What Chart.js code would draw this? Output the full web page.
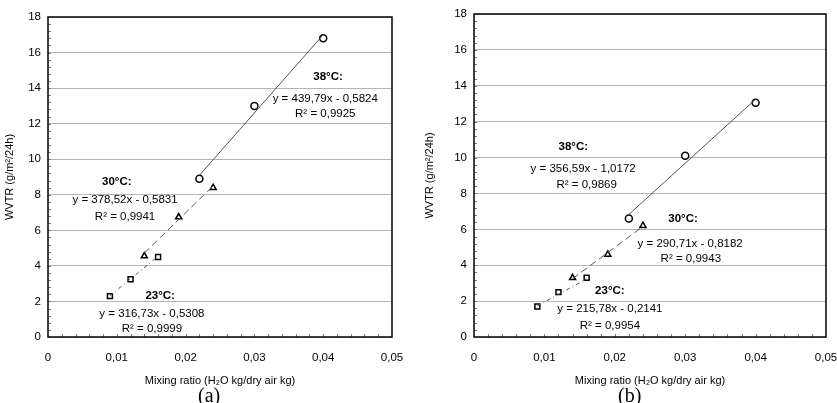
<!DOCTYPE html>
<html>
<head>
<meta charset="utf-8">
<script src="https://cdn.jsdelivr.net/npm/chart.js@4.4.1/dist/chart.umd.min.js"></script>
<style>
  body { margin: 0; background: #fff; overflow: hidden; }
  #wrap { position: relative; width: 837px; height: 403px; overflow: hidden; }
  canvas { position: absolute; top: 0; }
  .cap { position: absolute; top: 384px; font: 20px "Liberation Serif", "DejaVu Serif", serif; color: #000; line-height: 22px; }
</style>
</head>
<body>
<div id="wrap">
  <canvas id="chartA" width="420" height="403" style="left:0"></canvas>
  <canvas id="chartB" width="427" height="403" style="left:420px"></canvas>
  <div class="cap" style="left:198px">(a)</div>
  <div class="cap" style="left:618px">(b)</div>
</div>
<script>
// mixing ratio of the measurements (same for both panels)
const x38 = [0.022, 0.030, 0.040];
const x30 = [0.014, 0.019, 0.024];
const x23 = [0.009, 0.012, 0.016];

// WVTR values, panel (a)
const yA38 = [8.9, 13.0, 16.8];
const yA30 = [4.55, 6.75, 8.4];
const yA23 = [2.3, 3.25, 4.5];
// WVTR values, panel (b)
const yB38 = [6.6, 10.1, 13.05];
const yB30 = [3.3, 4.6, 6.2];
const yB23 = [1.7, 2.5, 3.3];

// trend line end points (x, y) as seen on the picture
const trendA38 = [[0.022, 9.09], [0.040, 17.0]];
const trendA30 = [[0.014, 4.72], [0.024, 8.50]];
const trendA23 = [[0.009, 2.32], [0.016, 4.54]];
const trendB38 = [[0.022, 6.83], [0.040, 13.25]];
const trendB30 = [[0.014, 3.25], [0.024, 6.16]];
const trendB23 = [[0.009, 1.73], [0.016, 3.24]];

// equation labels [text, x, y, bold]
const labelsA = [
  ['38°C:', 0.0407, 14.62, true],
  ['y = 439,79x - 0,5824', 0.0403, 13.39, false],
  ['R² = 0,9925', 0.0403, 12.54, false],
  ['30°C:', 0.0100, 8.72, true],
  ['y = 378,52x - 0,5831', 0.0112, 7.71, false],
  ['R² = 0,9941', 0.0112, 6.75, false],
  ['23°C:', 0.0163, 2.31, true],
  ['y = 316,73x - 0,5308', 0.0151, 1.29, false],
  ['R² = 0,9999', 0.0151, 0.45, false]
];
const labelsB = [
  ['38°C:', 0.0141, 10.61, true],
  ['y = 356,59x - 1,0172', 0.0155, 9.39, false],
  ['R² = 0,9869', 0.0160, 8.5, false],
  ['30°C:', 0.0297, 6.61, true],
  ['y = 290,71x - 0,8182', 0.0307, 5.22, false],
  ['R² = 0,9943', 0.0308, 4.33, false],
  ['23°C:', 0.0193, 2.56, true],
  ['y = 215,78x - 0,2141', 0.0193, 1.56, false],
  ['R² = 0,9954', 0.0193, 0.61, false]
];

const xTicks = [0, 0.01, 0.02, 0.03, 0.04, 0.05];
const FONT = '"Liberation Sans", Arial, sans-serif';

function pts(xs, ys) {
  return xs.map((x, i) => ({ x: x, y: ys[i] }));
}
function line(p) {
  return p.map(a => ({ x: a[0], y: a[1] }));
}

const boxPlugin = {
  id: 'box',
  afterDatasetsDraw(chart, args, opts) {
    const c = chart.ctx;
    const a = chart.chartArea;
    const xs = chart.scales.x, ys = chart.scales.y;
    c.save();
    // minor ticks
    c.strokeStyle = '#777';
    c.lineWidth = 1;
    c.beginPath();
    for (let i = 1; i < 45; i++) {
      const py = Math.round(ys.getPixelForValue(i * 0.4)) + 0.5;
      c.moveTo(a.left, py); c.lineTo(a.left + 3, py);
    }
    for (let i = 1; i < 25; i++) {
      const px = Math.round(xs.getPixelForValue(i * 0.002)) + 0.5;
      c.moveTo(px, a.bottom); c.lineTo(px, a.bottom - 3);
    }
    c.stroke();
    // frame
    c.strokeStyle = '#111';
    c.lineWidth = 1.6;
    c.strokeRect(a.left, a.top, a.right - a.left, a.bottom - a.top);
    // equations
    c.fillStyle = '#000';
    c.textAlign = 'center';
    c.textBaseline = 'middle';
    opts.labels.forEach(l => {
      c.font = (l[3] ? 'bold ' : '') + '11.5px ' + FONT;
      c.fillText(l[0], xs.getPixelForValue(l[1]), ys.getPixelForValue(l[2]));
    });
    c.restore();
  }
};

function makeChart(id, y38, y30, y23, t38, t30, t23, labels, yWidth, padTop, padRight) {
  const trend = { showLine: true, pointRadius: 0, borderColor: '#555', borderWidth: 1, fill: false };
  const mark = { borderColor: '#000', backgroundColor: '#fff', borderWidth: 1.5, pointRadius: 3.5 };
  return new Chart(document.getElementById(id), {
    type: 'scatter',
    data: {
      datasets: [
        Object.assign({ label: 't38', data: line(t38) }, trend),
        Object.assign({ label: 't30', data: line(t30), borderDash: [7, 4] }, trend),
        Object.assign({ label: 't23', data: line(t23), borderDash: [4, 3, 1, 3] }, trend),
        Object.assign({ label: '38°C', data: pts(x38, y38), pointStyle: 'circle' }, mark),
        Object.assign({ label: '30°C', data: pts(x30, y30), pointStyle: 'triangle', pointRadius: 4.5 }, mark),
        Object.assign({ label: '23°C', data: pts(x23, y23), pointStyle: 'rect', pointRadius: 4 }, mark)
      ]
    },
    options: {
      responsive: false,
      animation: false,
      devicePixelRatio: 1,
      layout: { padding: { top: padTop, right: padRight, bottom: 0, left: 0 } },
      plugins: { legend: { display: false }, tooltip: { enabled: false }, box: { labels: labels } },
      scales: {
        x: {
          type: 'linear', min: 0, max: 0.05,
          afterBuildTicks: s => { s.ticks = xTicks.map(v => ({ value: v })); },
          grid: { display: false },
          border: { display: false },
          ticks: {
            padding: 6, color: '#000',
            font: { size: 11.5, family: FONT },
            callback: v => v === 0 ? '0' : v.toFixed(2).replace('.', ',')
          },
          title: {
            display: true, text: 'Mixing ratio (H₂O kg/dry air kg)', color: '#000',
            font: { size: 11, family: FONT },
            padding: { top: 4, bottom: 15 }
          },
          afterFit: s => { s.height = 66; }
        },
        y: {
          min: 0, max: 18,
          grid: { color: '#b4b4b4', lineWidth: 1, drawTicks: false },
          border: { display: false },
          ticks: {
            stepSize: 2, padding: 7, color: '#000',
            font: { size: 11.5, family: FONT }
          },
          title: {
            display: true, text: 'WVTR (g/m²/24h)', color: '#000',
            font: { size: 11, family: FONT },
            padding: { top: 3, bottom: 0 }
          },
          afterFit: s => { s.width = yWidth; }
        }
      }
    },
    plugins: [boxPlugin]
  });
}

makeChart('chartA', yA38, yA30, yA23, trendA38, trendA30, trendA23, labelsA, 48, 17, 28);
makeChart('chartB', yB38, yB30, yB23, trendB38, trendB30, trendB23, labelsB, 54, 14, 21);
</script>
</body>
</html>
